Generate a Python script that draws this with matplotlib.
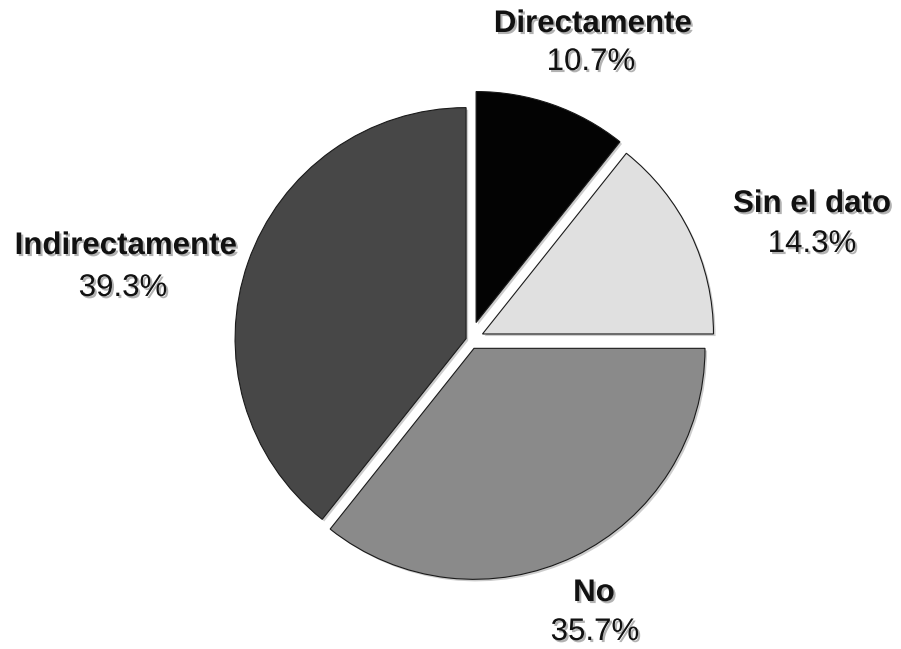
import matplotlib.pyplot as plt
import matplotlib.patheffects as pe

# survey answers, clockwise from 12 o'clock
categorias = ["Directamente", "Sin el dato", "No", "Indirectamente"]
porcentajes = [10.7, 14.3, 35.7, 39.3]
colores = ["#030303", "#e0e0e0", "#8a8a8a", "#474747"]
separacion = [0.08, 0.06, 0.04, 0.018]

# label anchor points (pixels from top-left) for name / value lines
pos_nombre = [(593, 24), (812, 204), (594, 593), (126, 246)]
pos_valor = [(591, 62), (812, 244), (595, 632), (123, 288)]

W, H = 901, 649
R = 231.0            # pie radius in px
cx, cy = 470, 340    # pie centre in px

fig = plt.figure(figsize=(W / 100, H / 100), dpi=100)
ax = fig.add_axes([0, 0, 1, 1])

wedges, _ = ax.pie(porcentajes, colors=colores, startangle=90, counterclock=False,
                   explode=separacion, radius=1,
                   wedgeprops=dict(edgecolor="#1a1a1a", linewidth=0.8))
for w in wedges:
    w.set_path_effects([pe.SimplePatchShadow(offset=(1.5, -1.5), shadow_rgbFace="k", alpha=0.2),
                        pe.Normal()])

ax.set_xlim(-cx / R, (W - cx) / R)
ax.set_ylim(-(H - cy) / R, cy / R)
ax.set_aspect("auto")
ax.axis("off")

sombra = [pe.withSimplePatchShadow(offset=(1.5, -1.5), shadow_rgbFace="k", alpha=0.3)]

def a_datos(px, py):
    return (px - cx) / R, (cy - py) / R

for nombre, valor, pn, pv in zip(categorias, porcentajes, pos_nombre, pos_valor):
    x, y = a_datos(*pn)
    ax.text(x, y, nombre, ha="center", va="center", fontsize=22.5, fontweight="bold",
            family="Liberation Sans", color="#111111", path_effects=sombra)
    x, y = a_datos(*pv)
    ax.text(x, y, f"{valor:.1f}%", ha="center", va="center", fontsize=22.5,
            family="Liberation Sans", color="#111111", path_effects=sombra)

fig.savefig("out.png", dpi=100, facecolor="white")
